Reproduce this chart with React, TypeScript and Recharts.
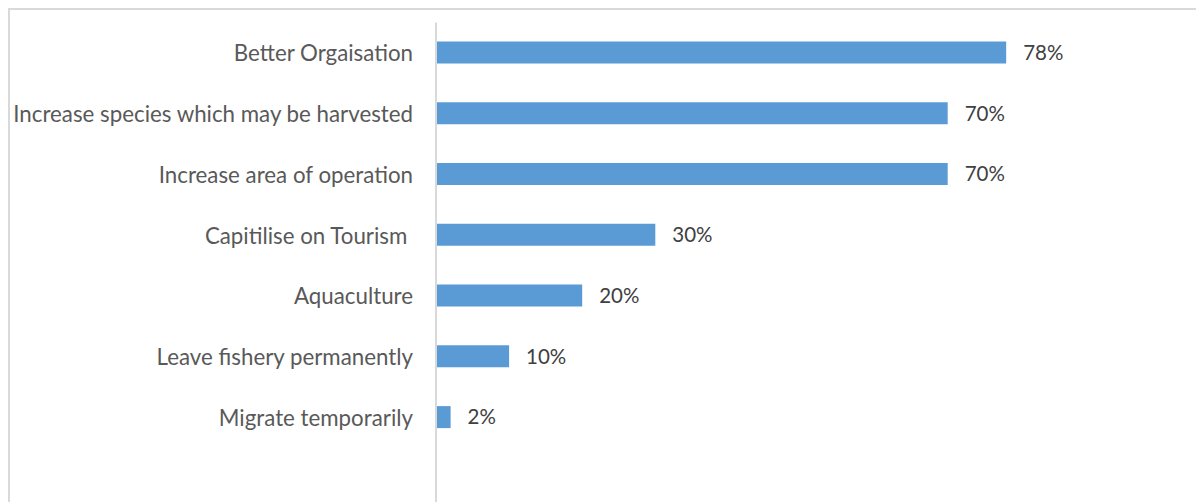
import React from "react";
import { BarChart, Bar, XAxis, YAxis, LabelList } from "recharts";

const categories = [
  "Better Orgaisation",
  "Increase species which may be harvested",
  "Increase area of operation",
  "Capitilise on Tourism ",
  "Aquaculture",
  "Leave fishery permanently",
  "Migrate temporarily",
];
const values = [78, 70, 70, 30, 20, 10, 2];

const data = categories.map((name, i) => ({ name, value: values[i] }));

const FONT = "Lato, 'Open Sans', sans-serif";

const Tick = (props: any) => {
  const { x, y, payload } = props;
  return (
    <text
      x={x}
      y={y}
      dy={8.5}
      textAnchor="end"
      fill="#595959"
      fontSize={22.3}
      fontFamily={FONT}
      style={{ whiteSpace: "pre" }}
    >
      {payload.value}
    </text>
  );
};

export default function App() {
  return (
    <div
      style={{
        width: 1194,
        height: 520,
        borderTop: "2px solid #d9d9d9",
        borderLeft: "2px solid #d9d9d9",
        background: "#fff",
      }}
    >
      <BarChart
        width={1194}
        height={520}
        data={data}
        layout="vertical"
        margin={{ top: 12.6, right: 37, bottom: 10, left: 0 }}
      >
        <XAxis type="number" domain={[0, 100]} hide />
        <YAxis
          type="category"
          dataKey="name"
          width={426}
          tickSize={0}
          tickMargin={23}
          tickLine={false}
          axisLine={{ stroke: "#d9d9d9", strokeWidth: 2 }}
          padding={{ top: 0, bottom: 72.15 }}
          tick={<Tick />}
          interval={0}
        />
        <Bar dataKey="value" fill="#5b9bd5" barSize={22} isAnimationActive={false}>
          <LabelList
            dataKey="value"
            position="right"
            offset={17}
            formatter={(v: any) => `${v}%`}
            fill="#404040"
            fontSize={20.5}
            fontFamily={FONT}
          />
        </Bar>
      </BarChart>
    </div>
  );
}
